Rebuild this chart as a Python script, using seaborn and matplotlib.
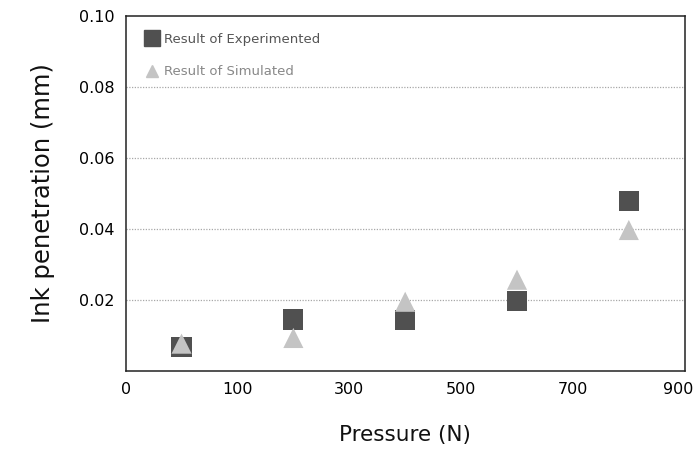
import matplotlib
matplotlib.use("Agg")
import matplotlib.pyplot as plt
import matplotlib.transforms as mtransforms
import seaborn as sns
import pandas as pd
from matplotlib.lines import Line2D

# Data
pressure = [0, 200, 400, 600, 800]          # positions on the drawn pressure axis
experimented = [0.0067, 0.0145, 0.0143, 0.0197, 0.0478]
simulated = [0.0077, 0.0093, 0.0195, 0.0257, 0.0397]
xtick_pos = [-100, 100, 300, 500, 700, 900]
xtick_labels = ["0", "100", "300", "500", "700", "900"]
ytick_vals = [0.02, 0.04, 0.06, 0.08, 0.10]
series_names = ["Result of Experimented", "Result of Simulated"]

df = pd.DataFrame({
    "Pressure": pressure + pressure,
    "Ink": experimented + simulated,
    "Series": [series_names[0]] * len(pressure) + [series_names[1]] * len(pressure),
})

sns.set_style("white")
plt.rcParams['font.family'] = ['DejaVu Sans']

fig = plt.figure(figsize=(6.98, 4.53), dpi=100)
ax = fig.add_axes([0.180, 0.181, 0.801, 0.784])

palette = {series_names[0]: "#505050", series_names[1]: "#c4c4c4"}
markers = {series_names[0]: "s", series_names[1]: "^"}
sns.scatterplot(data=df, x="Pressure", y="Ink", hue="Series", style="Series",
                palette=palette, markers=markers, s=210, linewidth=0,
                ax=ax, legend=False, zorder=3)
for coll in ax.collections:
    coll.set_zorder(3)

ax.set_xlim(-100, 900)
ax.set_ylim(0, 0.10)
ax.set_xticks(xtick_pos)
ax.set_xticklabels(xtick_labels)
ax.set_yticks(ytick_vals)
ax.set_yticklabels([f"{v:.2f}" for v in ytick_vals])
ax.tick_params(axis="both", direction="in", length=5, width=1, colors="black",
               labelsize=11.5, pad=8)

# the last x label sits flush with the right edge in the reference
last = ax.get_xticklabels()[-1]
last.set_transform(last.get_transform() +
                   mtransforms.ScaledTranslation(-5 / 72, 0, fig.dpi_scale_trans))

for v in ytick_vals[:-1]:
    ax.axhline(v, color="#a8a8a8", linestyle=(0, (1, 1.2)), linewidth=0.9, zorder=1)

for sp in ax.spines.values():
    sp.set_color("#222222")
    sp.set_linewidth(1.1)

ax.set_xlabel("Pressure (N)", fontsize=15.5, labelpad=20, color="#111111")
ax.set_ylabel("Ink penetration (mm)", fontsize=17.5, labelpad=17, color="#111111")

handles = [
    Line2D([], [], linestyle="none", marker="s", markersize=11, color="#505050"),
    Line2D([], [], linestyle="none", marker="^", markersize=8, color="#c4c4c4"),
]
leg = ax.legend(handles, series_names, loc="upper left", frameon=False,
                fontsize=9.5, handletextpad=0.35, labelspacing=1.45,
                bbox_to_anchor=(0.015, 0.985), handlelength=1.0)
leg.get_texts()[0].set_color("#555555")
leg.get_texts()[1].set_color("#888888")

fig.savefig("out.png", dpi=100)
